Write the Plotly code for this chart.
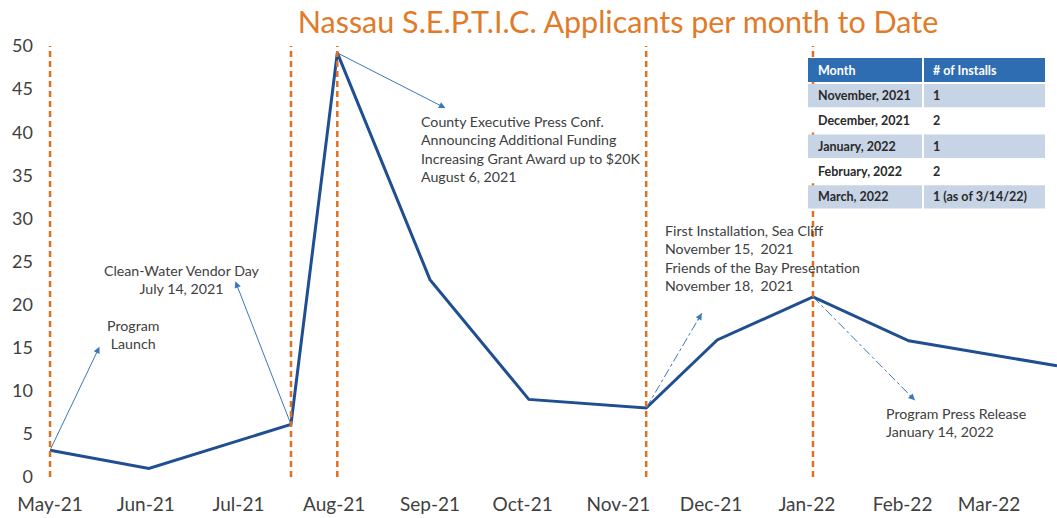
import plotly.graph_objects as go

# ---- data ----
dates = ["2021-05-01", "2021-06-02", "2021-07-18", "2021-08-02", "2021-09-01",
         "2021-10-03", "2021-11-10", "2021-12-03", "2022-01-03", "2022-02-03",
         "2022-03-23"]
applicants = [3.1, 1.0, 6.1, 49.2, 22.9, 9.0, 8.0, 15.9, 20.9, 15.8, 12.9]

event_dates = ["2021-05-01", "2021-07-18", "2021-08-02", "2021-11-10", "2022-01-03"]

table_header = ["Month", "# of Installs"]
table_months = ["November, 2021", "December, 2021", "January, 2022",
                "February, 2022", "March, 2022"]
table_installs = ["1", "2", "1", "2", "1 (as of 3/14/22)"]

title_text = "Nassau S.E.P.T.I.C. Applicants per month to Date"

FONT = "Lato"
TXT = "#404040"
ORANGE = "#E0701E"
BLUE = "#1F4E91"
ARROW = "#3A78B8"

fig = go.Figure()

fig.add_trace(go.Scatter(x=dates, y=applicants, mode="lines",
                         line=dict(color=BLUE, width=3), hoverinfo="x+y",
                         showlegend=False))

# dashed event lines
for d in event_dates:
    fig.add_shape(type="line", xref="x", yref="y", x0=d, x1=d, y0=0, y1=50,
                  line=dict(color=ORANGE, width=2.5, dash="6px,4px"))

val = dict(zip(dates, applicants))

# solid arrows: (tail date, head date, head value)
solid_arrows = [
    ("2021-05-01", "2021-05-17", 15.1),
    ("2021-07-18", "2021-06-30", 22.7),
    ("2021-08-02", "2021-09-06", 42.8),
]
for tail, hx, hy in solid_arrows:
    fig.add_annotation(x=hx, y=hy, ax=tail, ay=val[tail], xref="x", yref="y",
                       axref="x", ayref="y", text="", showarrow=True,
                       arrowhead=2, arrowsize=1.3, arrowwidth=1,
                       arrowcolor=ARROW)

# dashed arrows: shaft as dashed line, head as short annotation arrow
dashed_arrows = [
    ("2021-11-10", "2021-11-28", 19.0, -5, 9),
    ("2022-01-03", "2022-02-05", 8.9, -7, -7),
]
for tail, hx, hy, oax, oay in dashed_arrows:
    fig.add_trace(go.Scatter(x=[tail, hx], y=[val[tail], hy], mode="lines",
                             line=dict(color=ARROW, width=1, dash="dashdot"),
                             hoverinfo="skip", showlegend=False))
    fig.add_annotation(x=hx, y=hy, ax=oax, ay=oay, xref="x", yref="y",
                       text="", showarrow=True, arrowhead=2, arrowsize=1.3,
                       arrowwidth=1, arrowcolor=ARROW)

def px_x(p):
    return (p - 40) / 1017

def px_y(p):
    return (477 - p) / 431

labels = [
    ("Program<br>Launch", 133, 335, "center", "middle", "center"),
    ("Clean-Water Vendor Day<br>July 14, 2021", 182, 279, "center", "middle", "center"),
    ("County Executive Press Conf.<br>Announcing Additional Funding<br>"
     "Increasing Grant Award up to $20K<br>August 6, 2021", 419, 111, "left", "top", "left"),
    ("First Installation, Sea Cliff<br>November 15,  2021<br>"
     "Friends of the Bay Presentation<br>November 18,  2021", 663, 220, "left", "top", "left"),
    ("Program Press Release<br>January 14, 2022", 884, 403, "left", "top", "left"),
]
for t, x, y, xa, ya, al in labels:
    fig.add_annotation(x=px_x(x), y=px_y(y), xref="paper", yref="paper",
                       text=t, showarrow=False, xanchor=xa, yanchor=ya,
                       align=al, font=dict(family=FONT, size=14.2, color=TXT))

# ---- inset table drawn with shapes + text ----
col_edges = [808, 923, 1045]
header_top, header_bot = 58, 82
row_h = 25.3
row_fill = ["#C7D4E6", "#FFFFFF"]

for c in range(2):
    fig.add_shape(type="rect", xref="paper", yref="paper",
                  x0=px_x(col_edges[c] + (1 if c else 0)),
                  x1=px_x(col_edges[c + 1] - (1 if c == 0 else 0)),
                  y0=px_y(header_bot), y1=px_y(header_top),
                  fillcolor="#2F6DB3", line=dict(width=0), layer="above")
    fig.add_annotation(x=px_x(col_edges[c] + 8), y=px_y((header_top + header_bot) / 2),
                       xref="paper", yref="paper", text=f"<b>{table_header[c]}</b>",
                       showarrow=False, xanchor="left", yanchor="middle",
                       font=dict(family=FONT, size=12.5, color="white"))

for r, (m, n) in enumerate(zip(table_months, table_installs)):
    top = header_bot + 2 + r * row_h
    bot = top + row_h - 2
    for c, txt in enumerate([m, n]):
        fig.add_shape(type="rect", xref="paper", yref="paper",
                      x0=px_x(col_edges[c] + (1 if c else 0)),
                      x1=px_x(col_edges[c + 1] - (1 if c == 0 else 0)),
                      y0=px_y(bot), y1=px_y(top),
                      fillcolor=row_fill[r % 2], line=dict(width=0), layer="above")
        fig.add_annotation(x=px_x(col_edges[c] + 8), y=px_y((top + bot) / 2),
                           xref="paper", yref="paper", text=f"<b>{txt}</b>",
                           showarrow=False, xanchor="left", yanchor="middle",
                           font=dict(family=FONT, size=12.5, color="#2A2A2A"))

fig.update_layout(
    width=1057, height=518,
    margin=dict(l=40, r=0, t=46, b=41),
    paper_bgcolor="white", plot_bgcolor="white",
    showlegend=False,
    title=dict(text=title_text, x=618 / 1057, xanchor="center",
               y=1 - 22 / 518, yanchor="middle",
               font=dict(family=FONT, size=30.5, color="#E07B2A")),
    xaxis=dict(type="date", range=["2021-04-27 18:00", "2022-03-23"],
               tick0="2021-05-01", dtick="M1", tickformat="%b-%y",
               showgrid=False, zeroline=False, showline=False, ticks="",
               ticklabelstandoff=14,
               tickfont=dict(family=FONT, size=19, color=TXT)),
    yaxis=dict(range=[0, 50], dtick=5, showgrid=False, zeroline=False,
               showline=False, ticks="", ticklabelstandoff=6,
               tickfont=dict(family=FONT, size=18, color=TXT)),
)

fig.write_html("out.html", config={"displayModeBar": False},
               post_script="document.body.style.margin='0';")
